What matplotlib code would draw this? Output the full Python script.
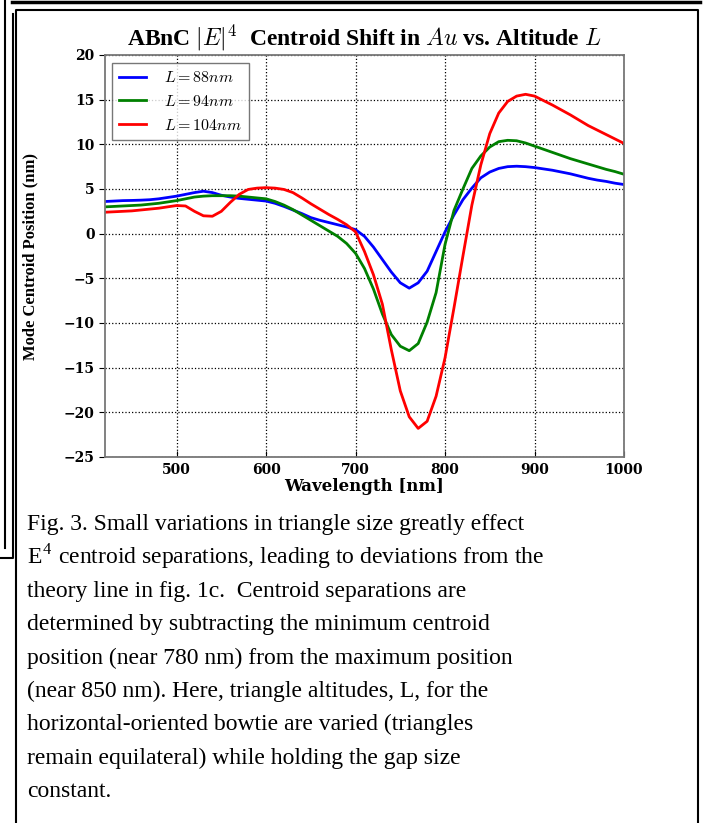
import matplotlib
matplotlib.use('Agg')
import matplotlib.pyplot as plt
from matplotlib.lines import Line2D

plt.rcParams['mathtext.fontset'] = 'cm'

# wavelength samples (nm)
wavelength = [420, 430, 440, 450, 460, 470, 480, 490, 500, 510,
              520, 530, 540, 550, 560, 570, 580, 590, 600, 610,
              620, 630, 640, 650, 660, 670, 680, 690, 700, 710,
              720, 730, 740, 750, 760, 770, 780, 790, 800, 810,
              820, 830, 840, 850, 860, 870, 880, 890, 900, 910,
              920, 930, 940, 950, 960, 970, 980, 990, 1000]

# centroid positions (nm)
L88 = [3.6, 3.65, 3.7, 3.72, 3.75, 3.8, 3.9, 4.05, 4.2, 4.4,
       4.6, 4.75, 4.6, 4.3, 4.1, 3.95, 3.85, 3.75, 3.65, 3.4,
       3.05, 2.65, 2.25, 1.8, 1.5, 1.25, 1.0, 0.75, 0.45, -0.3,
       -1.5, -2.9, -4.3, -5.5, -6.1, -5.5, -4.2, -2.0, 0.2, 2.1,
       3.8, 5.1, 6.25, 6.9, 7.3, 7.5, 7.55, 7.5, 7.4, 7.25,
       7.1, 6.9, 6.7, 6.45, 6.2, 6.0, 5.85, 5.65, 5.5]
L94 = [3.0, 3.05, 3.1, 3.15, 3.2, 3.3, 3.4, 3.55, 3.7, 3.9,
       4.1, 4.2, 4.25, 4.25, 4.25, 4.2, 4.1, 4.0, 3.9, 3.6,
       3.2, 2.7, 2.1, 1.5, 0.9, 0.3, -0.3, -1.1, -2.2, -3.9,
       -6.2, -9.0, -11.3, -12.6, -13.1, -12.3, -9.9, -6.6, -1.2, 2.6,
       5.0, 7.3, 8.7, 9.7, 10.3, 10.45, 10.4, 10.15, 9.8, 9.45,
       9.1, 8.75, 8.4, 8.1, 7.8, 7.5, 7.2, 6.95, 6.65]
L104 = [2.4, 2.45, 2.5, 2.55, 2.65, 2.75, 2.85, 3.0, 3.15, 3.1,
        2.5, 2.0, 1.95, 2.5, 3.5, 4.4, 4.95, 5.1, 5.15, 5.1,
        4.95, 4.6, 4.0, 3.35, 2.75, 2.15, 1.6, 1.0, 0.2, -2.0,
        -4.6, -7.9, -13.0, -17.6, -20.5, -21.8, -21.0, -18.2, -13.9, -8.3,
        -2.5, 3.2, 7.7, 11.2, 13.5, 14.8, 15.4, 15.6, 15.4, 14.9,
        14.4, 13.85, 13.3, 12.7, 12.1, 11.6, 11.1, 10.6, 10.1]

labels = [r'$L=88nm$', r'$L=94nm$', r'$L=104nm$']
colors = ['blue', 'green', 'red']

xticks = [500, 600, 700, 800, 900, 1000]
yticks = [-25, -20, -15, -10, -5, 0, 5, 10, 15, 20]

caption = [
    "Fig. 3. Small variations in triangle size greatly effect",
    r"E$^{\mathregular{4}}$ centroid separations, leading to deviations from the",
    "theory line in fig. 1c.  Centroid separations are",
    "determined by subtracting the minimum centroid",
    "position (near 780 nm) from the maximum position",
    "(near 850 nm). Here, triangle altitudes, L, for the",
    "horizontal-oriented bowtie are varied (triangles",
    "remain equilateral) while holding the gap size",
    "constant.",
]

W, H = 706, 823
fig = plt.figure(figsize=(W / 100, H / 100), dpi=100)
ax = fig.add_axes([105 / W, 1 - 457 / H, 519 / W, 402 / H])

for vals, lab, c in zip([L88, L94, L104], labels, colors):
    ax.plot(wavelength, vals, color=c, lw=2, label=lab)

ax.set_xlim(420, 1000)
ax.set_ylim(-25, 20)
ax.set_xticks(xticks)
ax.set_yticks(yticks)
ax.grid(True, color='k', linestyle=':', lw=0.9)
for s in ax.spines.values():
    s.set_color('#777777')
    s.set_linewidth(1.3)
ax.tick_params(axis='x', direction='in', length=4, pad=4)
ax.tick_params(axis='y', direction='out', length=4)
for t in ax.get_xticklabels() + ax.get_yticklabels():
    t.set_fontfamily('DejaVu Serif')
    t.set_fontweight('bold')
    t.set_fontsize(10)

ax.set_xlabel('Wavelength [nm]', family='DejaVu Serif', weight='bold',
              fontsize=12, labelpad=1)
ax.set_ylabel('Mode Centroid Position (nm)', family='Liberation Serif',
              weight='bold', fontsize=12, labelpad=18)
ax.set_title(r'ABnC $|E|^4$  Centroid Shift in $Au$ vs. Altitude $L$',
             family='Liberation Serif', weight='bold', fontsize=17, pad=7)

leg = ax.legend(loc='upper left', fontsize=11.5, fancybox=False,
                handlelength=1.7, borderpad=0.45, labelspacing=0.55,
                handletextpad=1.1, borderaxespad=0,
                bbox_to_anchor=(0.0135, 0.98))
leg.get_frame().set_edgecolor('#555555')
leg.get_frame().set_linewidth(1.0)

for i, line in enumerate(caption):
    fig.text(27 / W, 1 - (530 + 33.4 * i) / H, line, family='Liberation Serif',
             fontsize=17, va='baseline', ha='left')


def frame(xs, ys, lw=1.5):
    fig.add_artist(Line2D([x / W for x in xs], [1 - y / H for y in ys],
                          transform=fig.transFigure, color='k', lw=lw))


# page frame lines around the figure
frame([12, 700], [1.5, 1.5], lw=2.5)
frame([5, 5], [0, 548])
frame([0, 12.5, 12.5], [558, 558, 14])
frame([16, 16, 698, 698], [H, 10, 10, H])

fig.savefig('out.png', dpi=100)
